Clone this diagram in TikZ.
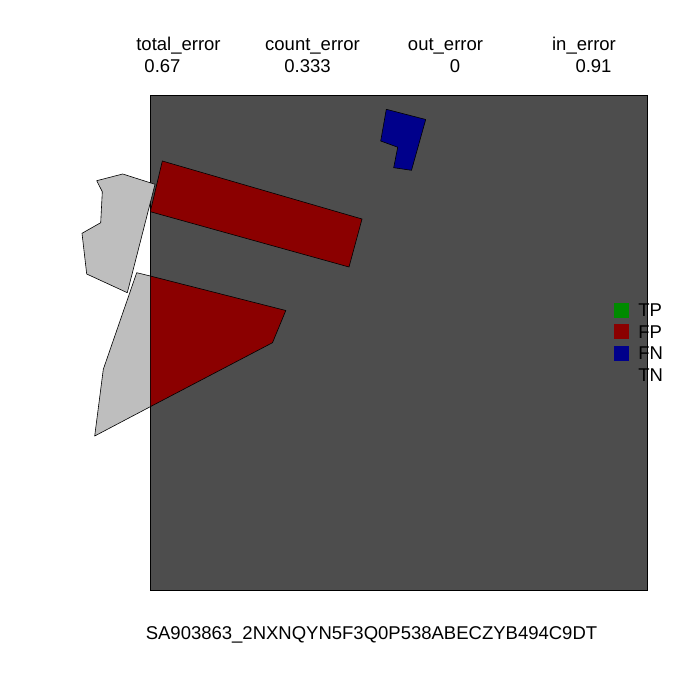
\documentclass[tikz,border=0pt]{standalone}
\usepackage{fontspec}
\setmainfont{Liberation Sans}
\usetikzlibrary{positioning}
\definecolor{PanelGray}{RGB}{77,77,77}
\definecolor{NoData}{RGB}{190,190,190}
\definecolor{TPGreen}{RGB}{0,139,0}
\definecolor{FPRed}{RGB}{139,0,0}
\definecolor{FNBlue}{RGB}{0,0,139}

\begin{document}
\begin{tikzpicture}[
    x=1pt, y=-1pt,
    font=\fontsize{18.5}{21}\selectfont,
    shp/.style={draw=black, line width=0.6pt, line join=round},
    key/.style={minimum size=15pt, inner sep=0pt},
    lbl/.style={anchor=west, inner sep=0pt},
    stat/.style={anchor=base, inner sep=0pt}
  ]
    \useasboundingbox (0,0) rectangle (700,700);
    \fill[white] (0,0) rectangle (700,700);
    % panel
    \filldraw[fill=PanelGray, draw=black, line width=0.8pt] (150,95) rectangle (647,590);
    % no-data polygons
    \filldraw[shp, fill=NoData] (96.7,180.7) -- (122.7,174) -- (155,184.3) -- (127.3,292.7)
        -- (86.7,274) -- (82,233.3) -- (100.7,222.7) -- (102.3,191.7) -- cycle;
    \filldraw[shp, fill=NoData] (136.7,272.7) -- (150.3,276) -- (150.3,406.7) -- (94.7,436)
        -- (103.3,369.3) -- cycle;
    % FP
    \filldraw[shp, fill=FPRed] (162.3,161) -- (362,219) -- (349,267) -- (150.3,211.7) -- cycle;
    \filldraw[shp, fill=FPRed] (150.3,276) -- (285.8,310.5) -- (272.5,342.7) -- (150.3,406.7) -- cycle;
    % FN
    \filldraw[shp, fill=FNBlue] (386.3,109.3) -- (425.7,119.5) -- (411.5,170.3) -- (393.7,167.7)
        -- (397.7,147.2) -- (380.7,141) -- cycle;
    % header
    \node[stat] (tot) at (178.5,50.5) {total\_error};
    \node[stat] (cnt) at (312.5,50.5) {count\_error};
    \node[stat] (out) at (445.5,50.5) {out\_error};
    \node[stat] (in) at (584,50.5) {in\_error};
    \node[stat] (totv) at (162.5,73) {0.67};
    \node[stat] (cntv) at (307.5,73) {0.333};
    \node[stat] (outv) at (455,73) {0};
    \node[stat] (inv) at (593.5,73) {0.91};
    % legend
    \node[key, fill=TPGreen] (tp) at (621.5,310) {};
    \node[key, fill=FPRed] (fp) at (621.5,331.8) {};
    \node[key, fill=FNBlue] (fn) at (621.5,353.4) {};
    \node[lbl, right=9pt of tp] (tpl) {TP};
    \node[lbl, right=9pt of fp] (fpl) {FP};
    \node[lbl, right=9pt of fn] (fnl) {FN};
    \node[lbl] (tnl) at (tpl.west |- 0,375.2) {TN};
    % sample id
    \node[stat] (sid) at (371.5,639) {SA903863\_2NXNQYN5F3Q0P538ABECZYB494C9DT};
\end{tikzpicture}
\end{document}
